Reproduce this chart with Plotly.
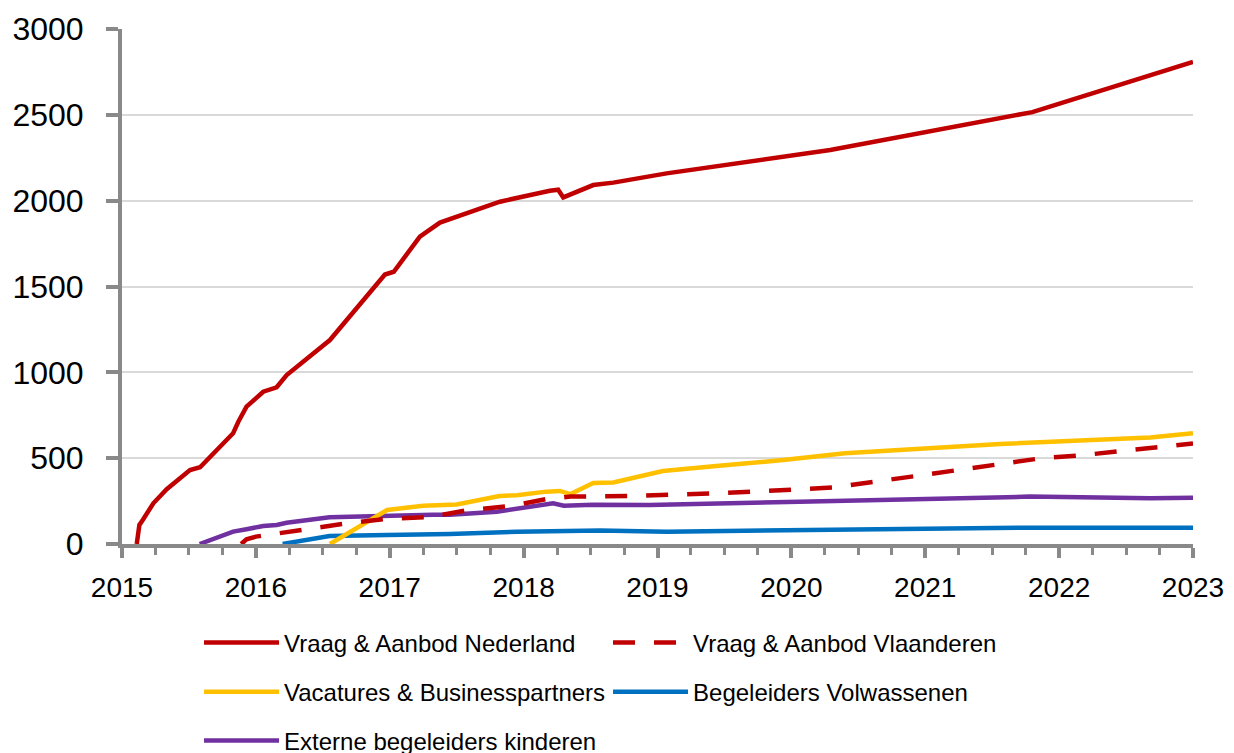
import plotly.graph_objects as go

# ---- data (decimal years, counts) ----
ned_x = [2015.11, 2015.13, 2015.155, 2015.234, 2015.334, 2015.508, 2015.583, 2015.83, 2015.869,
         2015.93, 2016.055, 2016.155, 2016.23, 2016.553, 2016.964, 2017.03, 2017.225, 2017.375,
         2017.823, 2017.898, 2018.196, 2018.258, 2018.296, 2018.52, 2018.67, 2019.068, 2020.29,
         2021.8, 2023.0]
ned_y = [0, 111, 140, 237, 319, 431, 447, 645, 712,
         800, 887, 913, 984, 1188, 1570, 1586, 1790, 1872,
         1994, 2008, 2058, 2064, 2019, 2091, 2105, 2159, 2295,
         2516, 2808]

vla_x = [2015.89, 2015.93, 2016.0, 2016.33, 2016.63, 2016.95, 2017.32, 2017.57, 2017.9, 2018.2,
         2018.35, 2018.82, 2019.44, 2020.06, 2020.31, 2020.93, 2021.56, 2021.86, 2022.18, 2022.8, 2023.0]
vla_y = [0, 27, 43, 82, 115, 144, 159, 196, 221, 266,
         276, 280, 295, 319, 330, 396, 470, 499, 518, 567, 585]

vac_x = [2016.553, 2016.73, 2016.98, 2017.25, 2017.5, 2017.82, 2017.95, 2018.17, 2018.27, 2018.35,
         2018.52, 2018.67, 2019.04, 2019.44, 2019.94, 2020.4, 2021.56, 2022.68, 2023.0]
vac_y = [0, 82, 198, 223, 230, 280, 284, 305, 309, 291,
         355, 358, 425, 455, 489, 528, 583, 620, 645]

vol_x = [2016.2, 2016.55, 2016.98, 2017.45, 2017.95, 2018.57, 2019.07, 2020.06, 2020.43, 2021.8, 2023.0]
vol_y = [0, 47, 52, 58, 72, 78, 72, 78, 86, 95, 95]

kin_x = [2015.58, 2015.83, 2015.93, 2016.055, 2016.155, 2016.23, 2016.55, 2016.98, 2017.32, 2017.45,
         2017.8, 2018.22, 2018.3, 2018.52, 2018.94, 2020.06, 2020.43, 2021.78, 2022.68, 2023.0]
kin_y = [0, 72, 86, 105, 111, 124, 156, 167, 171, 170,
         188, 237, 223, 229, 227, 246, 252, 276, 266, 270]

year_ticks = [2015, 2016, 2017, 2018, 2019, 2020, 2021, 2022, 2023]
y_ticks = [0, 500, 1000, 1500, 2000, 2500, 3000]

RED = "#C00000"
YEL = "#FFC000"
BLU = "#0070C0"
PUR = "#7030A0"
AXC = "#898989"
GRID = "#D9D9D9"
FONT = "Liberation Sans"

fig = go.Figure()
fig.add_trace(go.Scatter(x=vol_x, y=vol_y, mode="lines", name="Begeleiders Volwassenen",
                         line=dict(color=BLU, width=4.5), legend="legend2", legendrank=2))
fig.add_trace(go.Scatter(x=kin_x, y=kin_y, mode="lines", name="Externe begeleiders kinderen",
                         line=dict(color=PUR, width=4.5), legend="legend3", legendrank=1))
fig.add_trace(go.Scatter(x=vac_x, y=vac_y, mode="lines", name="Vacatures & Businesspartners",
                         line=dict(color=YEL, width=4.5), legend="legend2", legendrank=1))
fig.add_trace(go.Scatter(x=vla_x, y=vla_y, mode="lines", name="Vraag & Aanbod Vlaanderen",
                         line=dict(color=RED, width=4.5, dash="22px,19px"), legend="legend", legendrank=2))
fig.add_trace(go.Scatter(x=ned_x, y=ned_y, mode="lines", name="Vraag & Aanbod Nederland",
                         line=dict(color=RED, width=4.5), legend="legend", legendrank=1))

leg_common = dict(orientation="h", xanchor="left", yanchor="middle", xref="container", yref="container",
                  x=0.1548,
                  font=dict(family=FONT, size=24, color="#000000"),
                  itemwidth=75, entrywidth=319, entrywidthmode="pixels",
                  bgcolor="rgba(0,0,0,0)", traceorder="normal")

fig.update_layout(
    width=1234, height=753,
    margin=dict(l=114, r=49, t=21, b=217, autoexpand=False),
    paper_bgcolor="white", plot_bgcolor="white",
    font=dict(family=FONT, color="#000000"),
    showlegend=True,
    legend=dict(leg_common, y=0.1567),
    legend2=dict(leg_common, y=0.0916),
    legend3=dict(leg_common, y=0.0266),
    xaxis=dict(range=[2015, 2023], tickvals=year_ticks, ticktext=[str(v) for v in year_ticks],
               showgrid=False, zeroline=False, showline=True, linecolor=AXC, linewidth=4,
               ticks="outside", ticklen=10, tickwidth=4, tickcolor=AXC, automargin=False,
               minor=dict(dtick=0.25, tick0=2015, ticks="outside", ticklen=7, tickwidth=3,
                          tickcolor=AXC, showgrid=False),
               tickfont=dict(family=FONT, size=28, color="#000000"), ticklabelstandoff=5),
    yaxis=dict(range=[0, 3000], tickvals=y_ticks, showgrid=True, gridcolor=GRID, gridwidth=1.5,
               zeroline=False, showline=True, linecolor=AXC, linewidth=4, automargin=False,
               ticks="outside", ticklen=12, tickwidth=4, tickcolor=AXC,
               tickfont=dict(family=FONT, size=32, color="#000000"), ticklabelstandoff=16),
)

fig.write_html("out.html")
